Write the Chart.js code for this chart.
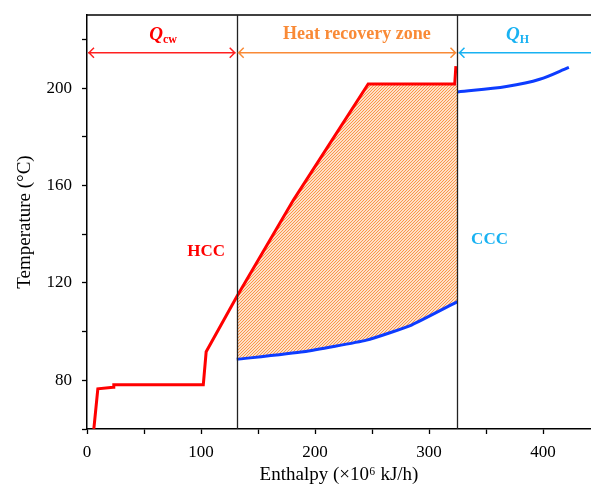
<!DOCTYPE html>
<html lang="en">
<head>
  <meta charset="UTF-8">
  <title>Composite Curves</title>
  <script src="https://cdn.jsdelivr.net/npm/chart.js"></script>
  <style>
    body {
      margin: 0;
      padding: 0;
      background: #ffffff;
    }
    canvas {
      display: block;
    }
  </style>
</head>
<body>

  <canvas id="cc" width="591" height="488"></canvas>

  <script>
    // hot composite curve (HCC)
    const hccH = [6, 9.5, 23, 23.5, 102, 104.5, 131.3, 181, 246.6, 322.5, 323.5];
    const hccT = [60, 76.5, 77.1, 78.2, 78.2, 91.7, 114.3, 154, 201.7, 201.7, 209];

    // cold composite curve (CCC), two pieces
    const cccLowH = [131.3, 189.8, 245.2, 284.6, 324.9];
    const cccLowT = [88.6, 91.7, 96.5, 102.7, 112.3];
    const cccHighH = [324.9, 367.8, 397, 422.6];
    const cccHighT = [198.4, 200.6, 203.6, 208.5];

    // top edge of the heat recovery zone
    const zoneH = [131.3, 181, 246.6, 324.9];
    const zoneT = [114.3, 154, 201.7, 201.7];

    const zoneStart = 131.3;
    const zoneEnd = 324.9;
    const arrowT = 214.5;

    const toPoints = (xs, ys) => xs.map((x, i) => ({ x: x, y: ys[i] }));

    const RED = '#ff0000';
    const BLUE = '#0d3cff';
    const ORANGE = '#f98a36';
    const CYAN = '#19b2f2';
    const SERIF = "'Liberation Serif', 'Times New Roman', serif";

    // hatch pattern for the heat recovery zone
    function hatch() {
      const c = document.createElement('canvas');
      c.width = 3;
      c.height = 3;
      const g = c.getContext('2d');
      g.strokeStyle = '#fa9240';
      g.lineWidth = 1.1;
      g.beginPath();
      g.moveTo(-1, 1); g.lineTo(1, -1);
      g.moveTo(0, 3); g.lineTo(3, 0);
      g.moveTo(2, 4); g.lineTo(4, 2);
      g.stroke();
      return g.createPattern(c, 'repeat');
    }

    function arrow(ctx, x1, x2, y, color, leftHead, rightHead) {
      ctx.save();
      ctx.strokeStyle = color;
      ctx.lineWidth = 1.5;
      ctx.beginPath();
      ctx.moveTo(x1, y);
      ctx.lineTo(x2, y);
      if (leftHead) {
        ctx.moveTo(x1 + 6, y - 5);
        ctx.lineTo(x1 + 1, y);
        ctx.lineTo(x1 + 6, y + 5);
      }
      if (rightHead) {
        ctx.moveTo(x2 - 6, y - 5);
        ctx.lineTo(x2 - 1, y);
        ctx.lineTo(x2 - 6, y + 5);
      }
      ctx.stroke();
      ctx.restore();
    }

    // Q with subscript
    function qLabel(ctx, x, y, sub, color) {
      ctx.save();
      ctx.fillStyle = color;
      ctx.textBaseline = 'alphabetic';
      ctx.font = 'italic bold 19px ' + SERIF;
      const qw = ctx.measureText('Q').width;
      ctx.font = 'bold 12px ' + SERIF;
      const sw = ctx.measureText(sub).width;
      const left = x - (qw + sw) / 2;
      ctx.font = 'italic bold 19px ' + SERIF;
      ctx.fillText('Q', left, y + 6);
      ctx.font = 'bold 12px ' + SERIF;
      ctx.fillText(sub, left + qw, y + 9);
      ctx.restore();
    }

    const decor = {
      id: 'decor',
      afterDatasetsDraw(chart) {
        const ctx = chart.ctx;
        const xs = chart.scales.x;
        const ys = chart.scales.y;
        const area = chart.chartArea;

        ctx.save();
        // frame top
        ctx.strokeStyle = '#000';
        ctx.lineWidth = 1.5;
        ctx.beginPath();
        ctx.moveTo(area.left, area.top);
        ctx.lineTo(area.right, area.top);
        ctx.stroke();

        // zone borders
        ctx.strokeStyle = '#222';
        ctx.lineWidth = 1.3;
        [zoneStart, zoneEnd].forEach(v => {
          const px = Math.round(xs.getPixelForValue(v)) + 0.5;
          ctx.beginPath();
          ctx.moveTo(px, area.top);
          ctx.lineTo(px, area.bottom);
          ctx.stroke();
        });
        ctx.restore();

        const ay = ys.getPixelForValue(arrowT);
        const x0 = area.left;
        const xa = xs.getPixelForValue(zoneStart);
        const xb = xs.getPixelForValue(zoneEnd);
        arrow(ctx, x0 + 1, xa - 1, ay, '#ff2020', true, true);
        arrow(ctx, xa + 1, xb - 1, ay, ORANGE, true, true);
        arrow(ctx, xb + 1, area.right, ay, CYAN, true, false);

        const ty = ys.getPixelForValue(222);
        qLabel(ctx, xs.getPixelForValue(66.8), ty, 'cw', RED);
        qLabel(ctx, xs.getPixelForValue(377.6), ty, 'H', CYAN);

        ctx.save();
        ctx.textAlign = 'center';
        ctx.textBaseline = 'middle';
        ctx.font = 'bold 18px ' + SERIF;
        ctx.fillStyle = ORANGE;
        ctx.fillText('Heat recovery zone', xs.getPixelForValue(236.7), ty);
        ctx.font = 'bold 17px ' + SERIF;
        ctx.fillStyle = RED;
        ctx.fillText('HCC', xs.getPixelForValue(104.5), ys.getPixelForValue(132.7));
        ctx.fillStyle = CYAN;
        ctx.fillText('CCC', xs.getPixelForValue(353), ys.getPixelForValue(137.6));
        ctx.restore();
      }
    };

    const ctx = document.getElementById('cc').getContext('2d');
    const chart = new Chart(ctx, {
      type: 'line',
      data: {
        datasets: [
          {
            label: 'HCC',
            data: toPoints(hccH, hccT),
            borderColor: RED,
            borderWidth: 3,
            pointRadius: 0,
            tension: 0,
            fill: false,
            order: 0
          },
          {
            label: 'CCC',
            data: toPoints(cccLowH, cccLowT),
            borderColor: BLUE,
            borderWidth: 3,
            pointRadius: 0,
            tension: 0.15,
            fill: false,
            order: 0
          },
          {
            label: 'CCC high',
            data: toPoints(cccHighH, cccHighT),
            borderColor: BLUE,
            borderWidth: 3,
            pointRadius: 0,
            cubicInterpolationMode: 'monotone',
            fill: false,
            order: 0
          },
          {
            label: 'zone',
            data: toPoints(zoneH, zoneT),
            borderColor: 'rgba(0,0,0,0)',
            borderWidth: 0,
            pointRadius: 0,
            tension: 0,
            backgroundColor: hatch(),
            fill: 1,
            order: 10
          }
        ]
      },
      options: {
        responsive: false,
        animation: false,
        layout: {
          padding: { top: 15, right: 0, left: 0, bottom: 0 }
        },
        plugins: {
          legend: { display: false },
          tooltip: { enabled: false },
          filler: { propagate: false }
        },
        scales: {
          x: {
            type: 'linear',
            min: 0,
            max: 442,
            afterFit: s => {
              s.height = 59;
              s.paddingLeft = 0;
              s.paddingRight = 0;
            },
            grid: {
              drawOnChartArea: false,
              drawTicks: true,
              tickLength: 5,
              color: '#000',
              tickWidth: 1.3
            },
            border: { display: true, color: '#000', width: 1.5 },
            ticks: {
              stepSize: 50,
              includeBounds: false,
              autoSkip: false,
              maxRotation: 0,
              padding: 8,
              color: '#000',
              font: { family: SERIF, size: 17 },
              callback: v => (v % 100 === 0 ? v : '')
            },
            title: {
              display: true,
              text: 'Enthalpy (×10⁶ kJ/h)',
              color: '#000',
              font: { family: SERIF, size: 19 },
              padding: { top: 0, bottom: 2 }
            }
          },
          y: {
            min: 60,
            max: 230,
            afterFit: s => {
              s.width = 87;
              s.paddingTop = 0;
              s.paddingBottom = 0;
            },
            grid: {
              drawOnChartArea: false,
              drawTicks: true,
              tickLength: 5,
              color: '#000',
              tickWidth: 1.3
            },
            border: { display: true, color: '#000', width: 1.5 },
            ticks: {
              stepSize: 20,
              includeBounds: false,
              autoSkip: false,
              padding: 10,
              color: '#000',
              font: { family: SERIF, size: 17 },
              callback: v => (v % 40 === 0 ? v : '')
            },
            title: {
              display: true,
              text: 'Temperature (°C)',
              color: '#000',
              font: { family: SERIF, size: 19 },
              padding: { top: 14, bottom: 6 }
            }
          }
        }
      },
      plugins: [decor]
    });
  </script>

</body>
</html>
